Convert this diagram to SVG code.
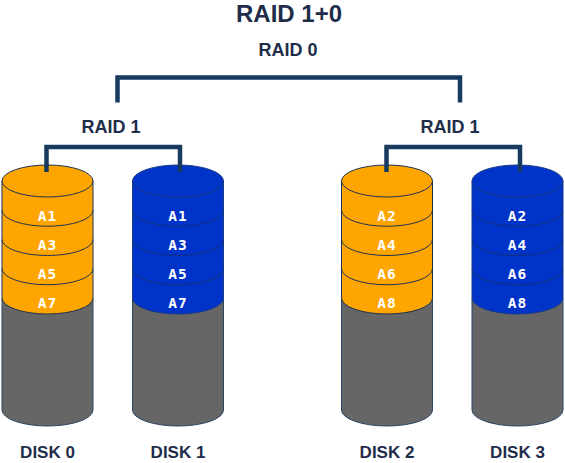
<svg xmlns="http://www.w3.org/2000/svg" width="565" height="463" viewBox="0 0 565 463">
<style>
.title{font-family:"Liberation Sans",Arial,sans-serif;font-weight:bold;fill:#1f2d4a;text-anchor:middle}
.disk{font-size:17px}
.blk{font-family:"DejaVu Sans Mono","Liberation Mono",monospace;font-weight:bold;font-size:14.5px;fill:#ffffff;text-anchor:middle;letter-spacing:1px}
.gray{fill:#666666;stroke:#2a4466;stroke-width:1}
.org{fill:#ffa500;stroke:#1c3350;stroke-width:1}
.blu{fill:#0033c8;stroke:#1a3a8a;stroke-width:1}
.line{fill:none;stroke-width:1}
.org-l{stroke:#1c3350}
.blu-l{stroke:#12307a}
.conn{fill:none;stroke:#173a5e;stroke-width:4.5;stroke-linejoin:miter;stroke-linecap:butt}
</style>
<defs>
<g id="cyl-gray">
<path class="gray" d="M-45.5,298 V410 A45.5,16 0 0 0 45.5,410 V298 Z"/>
</g>
</defs>
<text class="title" x="289" y="22" font-size="24">RAID 1+0</text>
<text class="title" x="288" y="56" font-size="18">RAID 0</text>
<text class="title" x="111" y="133" font-size="18">RAID 1</text>
<text class="title" x="450" y="133" font-size="18">RAID 1</text>

<g id="disk0" transform="translate(47.5,0)">
<use href="#cyl-gray"/>
<path class="org" d="M-45.5,181 V298 A45.5,16 0 0 0 45.5,298 V181 Z"/>
<path class="line org-l" d="M-45.5,210.25 A45.5,16 0 0 0 45.5,210.25 M-45.5,239.5 A45.5,16 0 0 0 45.5,239.5 M-45.5,268.75 A45.5,16 0 0 0 45.5,268.75"/>
<ellipse class="org" cx="0" cy="181" rx="45.5" ry="16"/>
<text class="blk" x="0" y="221">A1</text>
<text class="blk" x="0" y="250">A3</text>
<text class="blk" x="0" y="279">A5</text>
<text class="blk" x="0" y="308">A7</text>
<text class="title disk" x="0" y="458">DISK 0</text>
</g>

<g id="disk1" transform="translate(178,0)">
<use href="#cyl-gray"/>
<path class="blu" d="M-45.5,181 V298 A45.5,16 0 0 0 45.5,298 V181 Z"/>
<path class="line blu-l" d="M-45.5,210.25 A45.5,16 0 0 0 45.5,210.25 M-45.5,239.5 A45.5,16 0 0 0 45.5,239.5 M-45.5,268.75 A45.5,16 0 0 0 45.5,268.75"/>
<ellipse class="blu" cx="0" cy="181" rx="45.5" ry="16"/>
<text class="blk" x="0" y="221">A1</text>
<text class="blk" x="0" y="250">A3</text>
<text class="blk" x="0" y="279">A5</text>
<text class="blk" x="0" y="308">A7</text>
<text class="title disk" x="0" y="458">DISK 1</text>
</g>

<g id="disk2" transform="translate(387,0)">
<use href="#cyl-gray"/>
<path class="org" d="M-45.5,181 V298 A45.5,16 0 0 0 45.5,298 V181 Z"/>
<path class="line org-l" d="M-45.5,210.25 A45.5,16 0 0 0 45.5,210.25 M-45.5,239.5 A45.5,16 0 0 0 45.5,239.5 M-45.5,268.75 A45.5,16 0 0 0 45.5,268.75"/>
<ellipse class="org" cx="0" cy="181" rx="45.5" ry="16"/>
<text class="blk" x="0" y="221">A2</text>
<text class="blk" x="0" y="250">A4</text>
<text class="blk" x="0" y="279">A6</text>
<text class="blk" x="0" y="308">A8</text>
<text class="title disk" x="0" y="458">DISK 2</text>
</g>

<g id="disk3" transform="translate(517.5,0)">
<use href="#cyl-gray"/>
<path class="blu" d="M-45.5,181 V298 A45.5,16 0 0 0 45.5,298 V181 Z"/>
<path class="line blu-l" d="M-45.5,210.25 A45.5,16 0 0 0 45.5,210.25 M-45.5,239.5 A45.5,16 0 0 0 45.5,239.5 M-45.5,268.75 A45.5,16 0 0 0 45.5,268.75"/>
<ellipse class="blu" cx="0" cy="181" rx="45.5" ry="16"/>
<text class="blk" x="0" y="221">A2</text>
<text class="blk" x="0" y="250">A4</text>
<text class="blk" x="0" y="279">A6</text>
<text class="blk" x="0" y="308">A8</text>
<text class="title disk" x="0" y="458">DISK 3</text>
</g>

<g id="connectors">
<path class="conn" d="M117.5,102.5 V77.5 H460 V102.5"/>
<path class="conn" d="M46.5,172 V147 H180 V172"/>
<path class="conn" d="M386.5,172 V147 H520 V172"/>
</g>
</svg>
